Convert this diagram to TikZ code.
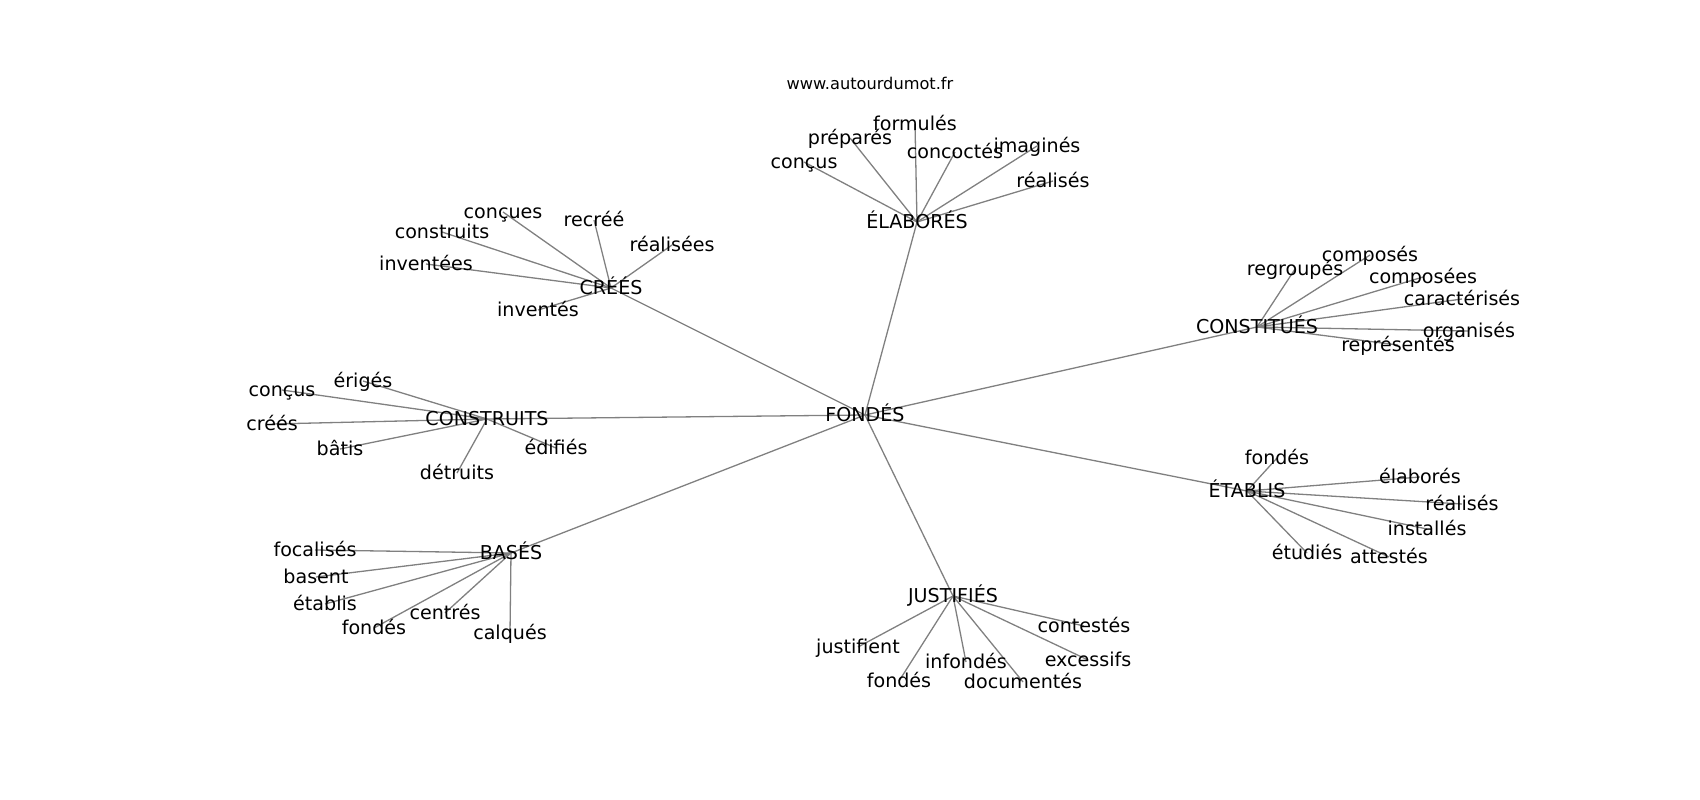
\documentclass[tikz,border=0pt]{standalone}
\usepackage{fontspec}
\setmainfont{DejaVu Sans}
\usetikzlibrary{backgrounds}
\tikzset{
  lbl/.style={inner sep=0pt, text height=1.22em, text depth=0em, font=\fontsize{19.1}{23}\selectfont, text=black},
  url/.style={inner sep=0pt, font=\fontsize{16.2}{19}\selectfont, text=black},
  edge/.style={draw=gray, line width=1.3pt}
}
\begin{document}
\begin{tikzpicture}[x=1pt,y=-1pt]
\useasboundingbox (0,0) rectangle (1700,800);
\node[url] (url) at (870,83) {www.autourdumot.fr};
% hubs
\node[lbl] (fon) at (865,415) {FONDÉS};
\node[lbl] (ela) at (917,222) {ÉLABORÉS};
\node[lbl] (cre) at (611,288) {CRÉÉS};
\node[lbl] (cst) at (487,419) {CONSTRUITS};
\node[lbl] (bas) at (511,553) {BASÉS};
\node[lbl] (jus) at (953,596) {JUSTIFIÉS};
\node[lbl] (cot) at (1257,327) {CONSTITUÉS};
\node[lbl] (eta) at (1247,491) {ÉTABLIS};
% ÉLABORÉS
\node[lbl] (e1) at (915,124) {formulés};
\node[lbl] (e2) at (850,138) {préparés};
\node[lbl] (e3) at (804,162) {conçus};
\node[lbl] (e4) at (955,152) {concoctés};
\node[lbl] (e5) at (1037,146) {imaginés};
\node[lbl] (e6) at (1053,181) {réalisés};
% CRÉÉS
\node[lbl] (c1) at (503,212) {conçues};
\node[lbl] (c2) at (594,220) {recréé};
\node[lbl] (c3) at (672,245) {réalisées};
\node[lbl] (c4) at (442,232) {construits};
\node[lbl] (c5) at (426,264) {inventées};
\node[lbl] (c6) at (538,310) {inventés};
% CONSTRUITS
\node[lbl] (s1) at (363,381) {érigés};
\node[lbl] (s2) at (282,390) {conçus};
\node[lbl] (s3) at (272,424) {créés};
\node[lbl] (s4) at (340,449) {bâtis};
\node[lbl] (s5) at (556,448) {édifiés};
\node[lbl] (s6) at (457,473) {détruits};
% BASÉS
\node[lbl] (b1) at (315,550) {focalisés};
\node[lbl] (b2) at (316,577) {basent};
\node[lbl] (b3) at (325,604) {établis};
\node[lbl] (b4) at (374,628) {fondés};
\node[lbl] (b5) at (445,613) {centrés};
\node[lbl] (b6) at (510,633) {calqués};
% JUSTIFIÉS
\node[lbl] (j1) at (858,647) {justifient};
\node[lbl] (j2) at (899,681) {fondés};
\node[lbl] (j3) at (966,662) {infondés};
\node[lbl] (j4) at (1023,682) {documentés};
\node[lbl] (j5) at (1084,626) {contestés};
\node[lbl] (j6) at (1088,660) {excessifs};
% CONSTITUÉS
\node[lbl] (t1) at (1295,269) {regroupés};
\node[lbl] (t2) at (1370,255) {composés};
\node[lbl] (t3) at (1423,277) {composées};
\node[lbl] (t4) at (1462,299) {caractérisés};
\node[lbl] (t5) at (1469,331) {organisés};
\node[lbl] (t6) at (1398,345) {représentés};
% ÉTABLIS
\node[lbl] (a1) at (1277,458) {fondés};
\node[lbl] (a2) at (1420,477) {élaborés};
\node[lbl] (a3) at (1462,504) {réalisés};
\node[lbl] (a4) at (1427,529) {installés};
\node[lbl] (a5) at (1307,553) {étudiés};
\node[lbl] (a6) at (1389,557) {attestés};
\begin{scope}[on background layer]
\foreach \h in {ela,cre,cst,bas,jus,cot,eta}
  \draw[edge] (fon.center) -- (\h.center);
\foreach \l in {e1,e2,e3,e4,e5,e6} \draw[edge] (ela.center) -- (\l.center);
\foreach \l in {c1,c2,c3,c4,c5,c6} \draw[edge] (cre.center) -- (\l.center);
\foreach \l in {s1,s2,s3,s4,s5,s6} \draw[edge] (cst.center) -- (\l.center);
\foreach \l in {b1,b2,b3,b4,b5,b6} \draw[edge] (bas.center) -- (\l.center);
\foreach \l in {j1,j2,j3,j4,j5,j6} \draw[edge] (jus.center) -- (\l.center);
\foreach \l in {t1,t2,t3,t4,t5,t6} \draw[edge] (cot.center) -- (\l.center);
\foreach \l in {a1,a2,a3,a4,a5,a6} \draw[edge] (eta.center) -- (\l.center);
\end{scope}
\end{tikzpicture}
\end{document}
